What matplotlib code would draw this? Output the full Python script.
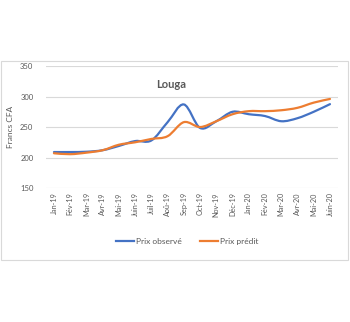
import numpy as np
import matplotlib
matplotlib.use("Agg")
import matplotlib.pyplot as plt
from matplotlib.path import Path
from matplotlib.patches import PathPatch, Rectangle
from matplotlib.lines import Line2D

plt.rcParams['font.family'] = ['Lato', 'DejaVu Sans']

# Data
months = ['Jan-19', 'Fév-19', 'Mar-19', 'Avr-19', 'Mai-19', 'Juin-19',
          'Juil-19', 'Aoû-19', 'Sep-19', 'Oct-19', 'Nov-19', 'Déc-19',
          'Jan-20', 'Fév-20', 'Mar-20', 'Avr-20', 'Mai-20', 'Juin-20']
prix_observe = [209, 209, 209.5, 212, 219, 227, 228, 258, 287, 248.5, 259.5, 275,
                271, 268, 259.5, 264.5, 275, 287.5]
prix_predit = [207, 205.5, 208, 212, 221, 225, 230.5, 235, 258, 250, 259.5, 271,
               276, 276, 277.5, 281.5, 290, 296]

BLUE = '#4472C4'
ORANGE = '#ED7D31'
GREY = '#595959'


def smooth_path(y):
    # Excel-like smoothed line: cubic Bezier through the points
    x = np.arange(len(y), dtype=float)
    y = np.asarray(y, dtype=float)
    n = len(y)
    verts = [(x[0], y[0])]
    codes = [Path.MOVETO]
    for i in range(n - 1):
        p0 = max(i - 1, 0)
        p3 = min(i + 2, n - 1)
        c1 = (x[i] + (x[i + 1] - x[p0]) / 6, y[i] + (y[i + 1] - y[p0]) / 6)
        c2 = (x[i + 1] - (x[p3] - x[i]) / 6, y[i + 1] - (y[p3] - y[i]) / 6)
        verts += [c1, c2, (x[i + 1], y[i + 1])]
        codes += [Path.CURVE4] * 3
    return Path(verts, codes)


fig = plt.figure(figsize=(3.5, 3.22), dpi=100)
ax = fig.add_axes([0.131, 0.416, 0.835, 0.379])

for series, color in [(prix_observe, BLUE), (prix_predit, ORANGE)]:
    ax.add_patch(PathPatch(smooth_path(series), facecolor='none',
                           edgecolor=color, lw=1.6, capstyle='round'))

ax.set_xlim(-0.5, len(months) - 0.5)
ax.set_ylim(150, 350)
ax.set_yticks([150, 200, 250, 300, 350])
ax.set_xticks(range(len(months)))
ax.set_xticklabels(months, rotation=90, fontsize=5.2, color=GREY)
ax.tick_params(axis='y', labelsize=5.5, labelcolor=GREY, length=0, pad=9)
ax.tick_params(axis='x', length=0, pad=3)
ax.grid(axis='y', color='#d9d9d9', lw=0.8)
ax.set_axisbelow(True)
for s in ax.spines.values():
    s.set_visible(False)

ax.set_ylabel('Francs CFA', fontsize=6, color=GREY)
ax.yaxis.set_label_coords(-0.11, 0.5)
ax.text(0.43, 0.82, 'Louga', transform=ax.transAxes, ha='center',
        fontsize=8, fontweight='bold', color=GREY)

handles = [Line2D([], [], color=BLUE, lw=1.6), Line2D([], [], color=ORANGE, lw=1.6)]
fig.legend(handles, ['Prix observé', 'Prix prédit'], loc='center',
           bbox_to_anchor=(0.535, 0.25), ncol=2, frameon=False, fontsize=6,
           labelcolor=GREY, handlelength=2.2, handletextpad=0.2, columnspacing=2.2)

# chart border
fig.patches.append(Rectangle((0.003, 0.193), 0.99, 0.617, transform=fig.transFigure,
                             fill=False, edgecolor='#d9d9d9', lw=0.8))

fig.savefig('out.png', dpi=100)
